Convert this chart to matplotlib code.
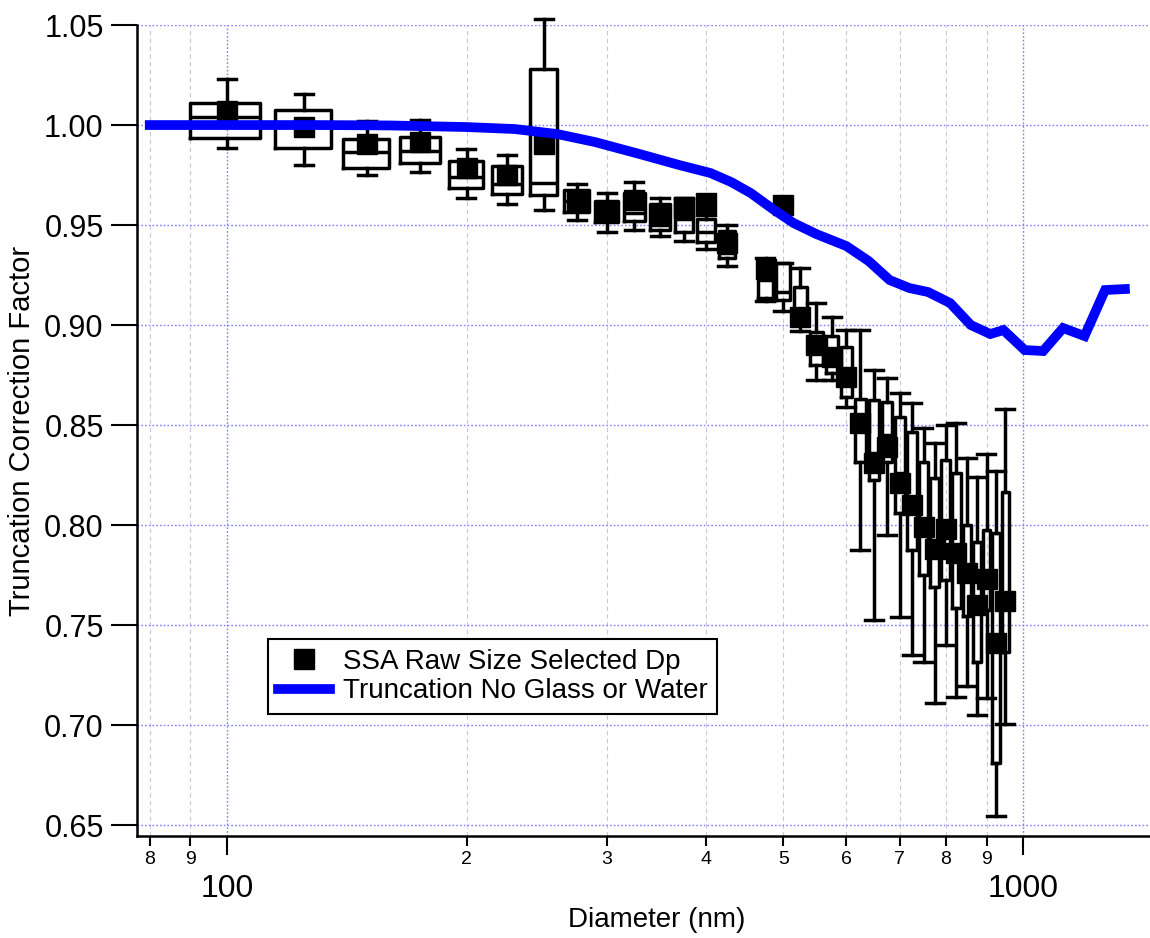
import numpy as np
import matplotlib
matplotlib.use('Agg')
import matplotlib.pyplot as plt

plt.rcParams['font.family'] = ['Liberation Sans', 'DejaVu Sans']

# size selected SSA boxes (diameter in nm)
diam = [100, 125, 150, 175, 200, 225, 250, 275, 300, 325, 350, 375, 400, 425,
        475, 500, 525, 550, 575, 600, 625, 650, 675, 700, 725, 750, 775, 800,
        825, 850, 875, 900, 925, 950]
means = [1.007, 0.999, 0.9905, 0.9915, 0.9785, 0.975, 0.9905, 0.962, 0.9565, 0.9625,
         0.955, 0.9585, 0.961, 0.941, 0.928, 0.960, 0.904, 0.890, 0.884, 0.874,
         0.851, 0.831, 0.839, 0.821, 0.810, 0.799, 0.788, 0.798, 0.786, 0.776,
         0.760, 0.773, 0.741, 0.762]
q3 = [1.011, 1.0075, 0.993, 0.994, 0.982, 0.9795, 1.028, 0.9675, 0.962, 0.966,
      0.9605, 0.9635, 0.953, 0.947, 0.9325, 0.931, 0.919, 0.8965, 0.8945, 0.889,
      0.863, 0.8625, 0.8615, 0.854, 0.8465, 0.8315, 0.8235, 0.8325, 0.826, 0.800,
      0.7915, 0.7975, 0.796, 0.8165]
q1 = [0.9935, 0.9885, 0.9785, 0.981, 0.9685, 0.9655, 0.965, 0.9565, 0.9515, 0.952,
      0.9475, 0.9465, 0.9415, 0.9335, 0.9135, 0.9125, 0.900, 0.880, 0.876, 0.864,
      0.8315, 0.8225, 0.8315, 0.806, 0.7875, 0.775, 0.769, 0.7725, 0.7585, 0.7545,
      0.7315, 0.7575, 0.681, 0.7365]
med = [1.004, 1.000, 0.9865, 0.987, 0.974, 0.9705, 0.971, 0.962, 0.956, 0.956,
       0.950, 0.953, 0.9465, 0.936, 0.9225, 0.9165, 0.908, 0.888, 0.885, 0.876,
       0.848, 0.836, 0.845, 0.826, 0.812, 0.800, 0.790, 0.800, 0.790, 0.777,
       0.762, 0.775, 0.745, 0.765]
whi = [1.023, 1.0155, 1.002, 1.0025, 0.988, 0.985, 1.053, 0.9705, 0.966, 0.9715,
       0.9635, 0.9635, 0.955, 0.950, 0.9335, 0.931, 0.9285, 0.911, 0.904, 0.8975,
       0.8975, 0.8775, 0.8735, 0.866, 0.861, 0.8485, 0.841, 0.850, 0.851, 0.8335,
       0.824, 0.8355, 0.827, 0.858]
wlo = [0.9885, 0.980, 0.975, 0.9765, 0.9635, 0.9605, 0.9575, 0.9525, 0.9465, 0.9475,
       0.9445, 0.942, 0.938, 0.9295, 0.912, 0.907, 0.897, 0.8725, 0.8725, 0.859,
       0.7875, 0.7525, 0.795, 0.754, 0.735, 0.7315, 0.711, 0.740, 0.714, 0.7195,
       0.705, 0.7135, 0.6545, 0.7005]

# truncation curve, no glass or water
trunc_d = [80, 100, 130, 160, 200, 230, 260, 290, 330, 370, 405, 430, 455, 485,
           515, 550, 600, 640, 680, 720, 760, 810, 860, 910, 945, 1005, 1060,
           1123, 1195, 1268, 1343]
trunc_v = [1.000, 1.000, 1.000, 0.9998, 0.999, 0.998, 0.9955, 0.9915, 0.9855, 0.980,
           0.976, 0.9715, 0.966, 0.958, 0.951, 0.9455, 0.9395, 0.932, 0.9225,
           0.9185, 0.9165, 0.911, 0.900, 0.8955, 0.8975, 0.8875, 0.887, 0.8985,
           0.8945, 0.9175, 0.918]

minor_pos = [80, 90, 200, 300, 400, 500, 600, 700, 800, 900]
minor_lab = ['8', '9', '2', '3', '4', '5', '6', '7', '8', '9']

fig = plt.figure(figsize=(11.5, 9.38), dpi=100)
ax = fig.add_axes([0.1191, 0.1087, 0.8809, 0.8646])

stats = []
for i in range(len(diam)):
    stats.append(dict(med=med[i], q1=q1[i], q3=q3[i], whislo=wlo[i], whishi=whi[i], fliers=[]))
capw = [d * 0.052 for d in diam]
lw = 2.5
bp = ax.bxp(stats, positions=diam, widths=20, capwidths=capw, showfliers=False,
            manage_ticks=False,
            boxprops=dict(color='k', linewidth=lw),
            whiskerprops=dict(color='k', linewidth=lw),
            capprops=dict(color='k', linewidth=lw),
            medianprops=dict(color='k', linewidth=lw))
for key in bp:
    for art in bp[key]:
        art.set_clip_on(False)

ax.plot(diam, means, 's', color='k', markersize=14.5, linestyle='none',
        label='SSA Raw Size Selected Dp', zorder=3)
ax.plot(trunc_d, trunc_v, color='#0000ff', linewidth=7, solid_joinstyle='miter',
        label='Truncation No Glass or Water', zorder=4)

ax.set_xscale('log')
ax.set_xlim(77.1, 1444)
ax.set_ylim(0.6445, 1.05)

ax.set_xticks([100, 1000])
ax.set_xticklabels(['100', '1000'])
ax.set_xticks(minor_pos, minor=True)
ax.set_xticklabels(minor_lab, minor=True)
ax.set_yticks(np.arange(0.65, 1.051, 0.05))
ax.set_yticklabels(['%.2f' % v for v in np.arange(0.65, 1.051, 0.05)])

ax.tick_params(axis='y', which='major', length=19, width=1.5, labelsize=22, pad=5)
ax.tick_params(axis='x', which='major', length=14, width=1.5, labelsize=23, pad=13)
ax.tick_params(axis='x', which='minor', length=7.5, width=1.5, labelsize=14, pad=3)

for s in ['top', 'right']:
    ax.spines[s].set_visible(False)
for s in ['left', 'bottom']:
    ax.spines[s].set_linewidth(1.8)

ax.set_axisbelow(True)
ax.yaxis.grid(True, which='major', color='#7f7fff', linestyle=(0, (1.2, 1.5)), linewidth=1.0)
ax.xaxis.grid(True, which='major', color='#7f7fff', linestyle=(0, (1.2, 1.5)), linewidth=1.0)
ax.xaxis.grid(True, which='minor', color='#c8c8dc', linestyle=(0, (4, 3)), linewidth=0.8)

ax.set_xlabel('Diameter (nm)', fontsize=20)
ax.set_ylabel('Truncation Correction Factor', fontsize=21)
ax.xaxis.set_label_coords(0.513, -0.087)
ax.yaxis.set_label_coords(-0.1, 0.5)

leg = ax.legend(loc='lower left', bbox_to_anchor=(0.1293, 0.1504), fontsize=20,
                frameon=True, fancybox=False, framealpha=1, edgecolor='k',
                borderaxespad=0, borderpad=0.35, labelspacing=0.12,
                handlelength=1.9, handletextpad=0.45)
leg.get_frame().set_linewidth(1.5)

fig.savefig('out.png', dpi=100)
